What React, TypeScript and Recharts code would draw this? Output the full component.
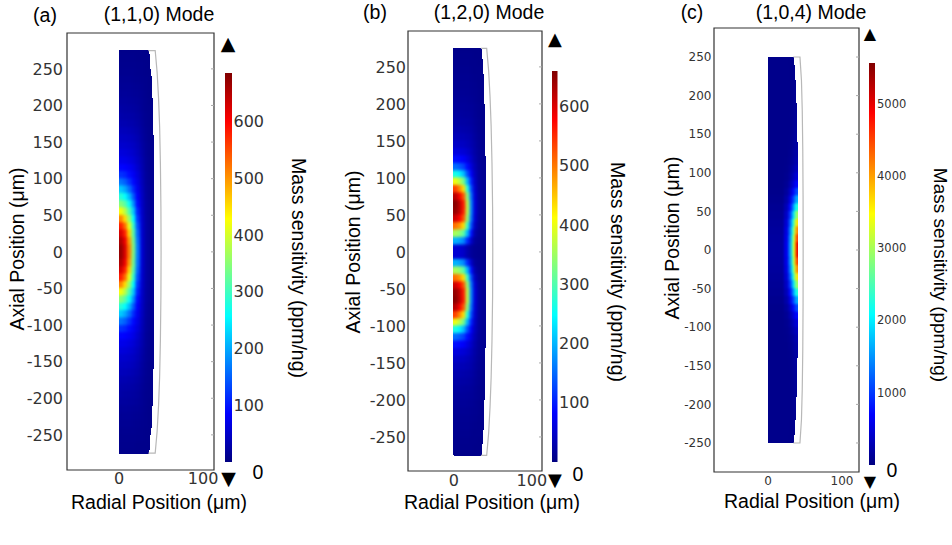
import React from 'react';
import { ScatterChart, Scatter, XAxis, YAxis, ReferenceArea } from 'recharts';

// ---------- tick labels ----------
const radialTicks = [0, 100];
const axialTicks = [-250, -200, -150, -100, -50, 0, 50, 100, 150, 200, 250];
const sensTicksA = [100, 200, 300, 400, 500, 600];
const sensTicksB = [100, 200, 300, 400, 500, 600];
const sensTicksC = [1000, 2000, 3000, 4000, 5000];
const sensMaxA = 685;
const sensMaxB = 660;
const sensMaxC = 5560;

// ---------- axial row boundaries (µm, top -> bottom) ----------
const zBandsA = [275, 270, 260, 250, 240, 230, 220, 210, 200, 190, 180, 170, 160, 150, 140, 130, 120, 110, 100, 90, 80, 70, 60, 50, 40, 30, 20, 10, 0,
  -10, -20, -30, -40, -50, -60, -70, -80, -90, -100, -110, -120, -130, -140, -150, -160, -170, -180, -190, -200, -210, -220, -230, -240, -250, -260, -270, -275];
const zBandsB = [275, 270, 260, 250, 240, 230, 220, 210, 200, 190, 180, 170, 160, 150, 140, 130, 120, 110, 100, 90, 80, 70, 60, 50, 40, 30, 20, 10, 0,
  -10, -20, -30, -40, -50, -60, -70, -80, -90, -100, -110, -120, -130, -140, -150, -160, -170, -180, -190, -200, -210, -220, -230, -240, -250, -260, -270, -275];
const zBandsC = [250, 240, 230, 220, 210, 200, 190, 180, 170, 160, 150, 140, 130, 120, 110, 100, 90, 80, 70, 60, 50, 40, 30, 20, 10, 0,
  -10, -20, -30, -40, -50, -60, -70, -80, -90, -100, -110, -120, -130, -140, -150, -160, -170, -180, -190, -200, -210, -220, -230, -240, -250];

// ---------- radial column boundaries (µm) ----------
const rColsA = [0, 5, 10, 15, 20, 25, 30, 35];
const rColsB = [0, 5, 10, 15, 20, 25, 30, 35];
const rEdgeOffsetsC = [18, 12, 8, 5, 3, 1.5];

// ---------- right edge of the coloured resonator per row (µm) ----------
const edgeA = [35.3, 35.9, 36.7, 37.4, 38.0, 38.5, 38.9, 39.3, 39.6, 39.9, 40.1, 40.3, 40.4, 40.5, 40.6, 40.7, 40.8, 40.8, 40.9, 41, 41, 41, 41, 41, 41, 41, 41, 41,
  41, 41, 41, 41, 41, 41, 41, 41, 41, 40.9, 40.8, 40.8, 40.7, 40.6, 40.5, 40.4, 40.3, 40.1, 39.9, 39.6, 39.3, 38.9, 38.5, 38.0, 37.4, 36.7, 35.9, 35.3];
const edgeB = [34.9, 35.5, 36.2, 36.8, 37.3, 37.8, 38.2, 38.5, 38.8, 39.1, 39.3, 39.5, 39.6, 39.7, 39.8, 39.85, 39.9, 39.95, 40, 40, 40, 40, 40, 40, 40, 40, 40, 40,
  40, 40, 40, 40, 40, 40, 40, 40, 40, 40, 39.95, 39.9, 39.85, 39.8, 39.7, 39.6, 39.5, 39.3, 39.1, 38.8, 38.5, 38.2, 37.8, 37.3, 36.8, 36.2, 35.5, 34.9];
const edgeC = [34.5, 35.3, 36.0, 36.6, 37.1, 37.6, 38.0, 38.3, 38.6, 38.9, 39.1, 39.3, 39.45, 39.6, 39.7, 39.8, 39.85, 39.9, 39.95, 40, 40, 40, 40, 40, 40,
  40, 40, 40, 40, 40, 40, 39.95, 39.9, 39.85, 39.8, 39.7, 39.6, 39.45, 39.3, 39.1, 38.9, 38.6, 38.3, 38.0, 37.6, 37.1, 36.6, 36.0, 35.3, 34.5];

// ---------- outer outline (µm) ----------
const outlineA = [
  { x: 34.8, y: 275 }, { x: 43, y: 275 }, { x: 45.3, y: 245 }, { x: 47, y: 210 }, { x: 48.3, y: 170 },
  { x: 49.2, y: 120 }, { x: 49.8, y: 60 }, { x: 50, y: 0 }, { x: 49.8, y: -60 }, { x: 49.2, y: -120 },
  { x: 48.3, y: -170 }, { x: 47, y: -210 }, { x: 45.3, y: -245 }, { x: 43, y: -275 }, { x: 34.8, y: -275 },
];
const outlineB = [
  { x: 34.6, y: 275 }, { x: 42, y: 275 }, { x: 44.5, y: 245 }, { x: 46.3, y: 210 }, { x: 47.7, y: 170 },
  { x: 48.8, y: 120 }, { x: 49.6, y: 60 }, { x: 49.8, y: 0 }, { x: 49.6, y: -60 }, { x: 48.8, y: -120 },
  { x: 47.7, y: -170 }, { x: 46.3, y: -210 }, { x: 44.5, y: -245 }, { x: 42, y: -275 }, { x: 34.6, y: -275 },
];
const outlineC = [
  { x: 34.2, y: 250 }, { x: 43.2, y: 250 }, { x: 45.2, y: 220 }, { x: 46.3, y: 180 }, { x: 47, y: 130 },
  { x: 47.4, y: 70 }, { x: 47.5, y: 0 }, { x: 47.4, y: -70 }, { x: 47, y: -130 }, { x: 46.3, y: -180 },
  { x: 45.2, y: -220 }, { x: 43.2, y: -250 }, { x: 34.2, y: -250 },
];

// ---------- mass sensitivity (ppm/ng), rows top -> bottom ----------
const heatA = [
  [8, 8, 8, 8, 8, 8, 8, 8],
  [9, 9, 9, 9, 8, 8, 8, 8],
  [10, 10, 10, 10, 9, 9, 8, 8],
  [11, 11, 11, 11, 10, 9, 8, 8],
  [13, 13, 13, 12, 11, 10, 9, 8],
  [15, 15, 15, 14, 13, 11, 9, 8],
  [18, 18, 17, 16, 15, 12, 9, 8],
  [21, 21, 20, 19, 17, 13, 10, 8],
  [25, 24, 23, 22, 19, 14, 10, 9],
  [29, 28, 27, 25, 22, 16, 11, 9],
  [34, 33, 31, 29, 25, 18, 12, 9],
  [40, 39, 37, 34, 29, 20, 13, 10],
  [46, 45, 43, 40, 33, 22, 14, 10],
  [53, 52, 49, 45, 37, 25, 15, 11],
  [62, 60, 56, 51, 41, 28, 16, 11],
  [72, 70, 65, 58, 46, 31, 17, 12],
  [88, 85, 78, 68, 52, 34, 18, 12],
  [118, 110, 93, 78, 60, 37, 19, 13],
  [164, 149, 121, 90, 66, 40, 20, 13],
  [222, 200, 162, 113, 73, 43, 21, 14],
  [283, 258, 212, 145, 81, 46, 22, 14],
  [345, 316, 262, 182, 90, 48, 23, 15],
  [423, 380, 311, 221, 106, 50, 24, 15],
  [510, 452, 360, 256, 120, 52, 25, 15],
  [580, 526, 413, 289, 138, 54, 25, 16],
  [626, 577, 460, 314, 152, 55, 26, 16],
  [654, 610, 497, 332, 161, 56, 26, 16],
  [669, 624, 516, 342, 166, 57, 26, 16],
  [669, 624, 516, 342, 166, 57, 26, 16],
  [654, 610, 497, 332, 161, 56, 26, 16],
  [626, 577, 460, 314, 152, 55, 26, 16],
  [580, 526, 413, 289, 138, 54, 25, 16],
  [510, 452, 360, 256, 120, 52, 25, 15],
  [423, 380, 311, 221, 106, 50, 24, 15],
  [345, 316, 262, 182, 90, 48, 23, 15],
  [283, 258, 212, 145, 81, 46, 22, 14],
  [222, 200, 162, 113, 73, 43, 21, 14],
  [164, 149, 121, 90, 66, 40, 20, 13],
  [118, 110, 93, 78, 60, 37, 19, 13],
  [88, 85, 78, 68, 52, 34, 18, 12],
  [72, 70, 65, 58, 46, 31, 17, 12],
  [62, 60, 56, 51, 41, 28, 16, 11],
  [53, 52, 49, 45, 37, 25, 15, 11],
  [46, 45, 43, 40, 33, 22, 14, 10],
  [40, 39, 37, 34, 29, 20, 13, 10],
  [34, 33, 31, 29, 25, 18, 12, 9],
  [29, 28, 27, 25, 22, 16, 11, 9],
  [25, 24, 23, 22, 19, 14, 10, 9],
  [21, 21, 20, 19, 17, 13, 10, 8],
  [18, 18, 17, 16, 15, 12, 9, 8],
  [15, 15, 15, 14, 13, 11, 9, 8],
  [13, 13, 13, 12, 11, 10, 9, 8],
  [11, 11, 11, 11, 10, 9, 8, 8],
  [10, 10, 10, 10, 9, 9, 8, 8],
  [9, 9, 9, 9, 8, 8, 8, 8],
  [8, 8, 8, 8, 8, 8, 8, 8],
];

const heatB = [
  [7, 7, 7, 7, 7, 7, 7, 7],
  [8, 8, 8, 8, 8, 7, 7, 7],
  [9, 9, 9, 9, 8, 8, 7, 7],
  [10, 10, 10, 10, 9, 8, 8, 7],
  [11, 11, 11, 11, 10, 9, 8, 7],
  [12, 12, 12, 12, 11, 10, 8, 8],
  [14, 14, 14, 13, 12, 11, 9, 8],
  [16, 16, 16, 15, 14, 12, 9, 8],
  [18, 18, 18, 17, 16, 13, 10, 8],
  [21, 21, 20, 19, 18, 14, 10, 8],
  [25, 25, 24, 23, 21, 16, 11, 9],
  [30, 30, 29, 27, 24, 18, 12, 9],
  [37, 36, 35, 32, 28, 20, 13, 10],
  [46, 45, 43, 38, 32, 22, 14, 10],
  [62, 59, 56, 48, 38, 25, 15, 11],
  [90, 86, 79, 64, 47, 29, 16, 11],
  [152, 140, 125, 89, 60, 34, 18, 12],
  [262, 240, 207, 134, 77, 39, 19, 12],
  [402, 369, 323, 199, 102, 45, 20, 13],
  [537, 493, 436, 272, 129, 50, 21, 13],
  [624, 584, 523, 335, 153, 54, 22, 14],
  [655, 621, 563, 366, 167, 56, 23, 14],
  [648, 619, 560, 366, 168, 56, 23, 14],
  [609, 581, 526, 343, 157, 52, 21, 13],
  [505, 482, 436, 285, 130, 42, 18, 12],
  [356, 340, 308, 201, 91, 28, 14, 11],
  [198, 189, 171, 110, 48, 18, 12, 10],
  [55, 53, 47, 30, 18, 12, 10, 9],
  [55, 53, 47, 30, 18, 12, 10, 9],
  [198, 189, 171, 110, 48, 18, 12, 10],
  [356, 340, 308, 201, 91, 28, 14, 11],
  [505, 482, 436, 285, 130, 42, 18, 12],
  [609, 581, 526, 343, 157, 52, 21, 13],
  [648, 619, 560, 366, 168, 56, 23, 14],
  [655, 621, 563, 366, 167, 56, 23, 14],
  [624, 584, 523, 335, 153, 54, 22, 14],
  [537, 493, 436, 272, 129, 50, 21, 13],
  [402, 369, 323, 199, 102, 45, 20, 13],
  [262, 240, 207, 134, 77, 39, 19, 12],
  [152, 140, 125, 89, 60, 34, 18, 12],
  [90, 86, 79, 64, 47, 29, 16, 11],
  [62, 59, 56, 48, 38, 25, 15, 11],
  [46, 45, 43, 38, 32, 22, 14, 10],
  [37, 36, 35, 32, 28, 20, 13, 10],
  [30, 30, 29, 27, 24, 18, 12, 9],
  [25, 25, 24, 23, 21, 16, 11, 9],
  [21, 21, 20, 19, 18, 14, 10, 8],
  [18, 18, 18, 17, 16, 13, 10, 8],
  [16, 16, 16, 15, 14, 12, 9, 8],
  [14, 14, 14, 13, 12, 11, 9, 8],
  [12, 12, 12, 12, 11, 10, 8, 8],
  [11, 11, 11, 11, 10, 9, 8, 7],
  [10, 10, 10, 10, 9, 8, 8, 7],
  [9, 9, 9, 9, 8, 8, 7, 7],
  [8, 8, 8, 8, 8, 7, 7, 7],
  [7, 7, 7, 7, 7, 7, 7, 7],
];

const heatC = [
  [60, 60, 60, 60, 60, 62, 70],
  [60, 60, 60, 60, 62, 66, 76],
  [60, 60, 60, 60, 65, 72, 84],
  [60, 60, 60, 60, 68, 79, 92],
  [60, 60, 60, 62, 73, 87, 100],
  [60, 60, 60, 65, 79, 95, 108],
  [60, 60, 60, 69, 86, 104, 118],
  [60, 60, 60, 73, 94, 114, 129],
  [60, 60, 62, 78, 103, 125, 141],
  [60, 60, 65, 85, 114, 138, 155],
  [60, 60, 69, 94, 127, 153, 172],
  [60, 60, 74, 105, 143, 172, 194],
  [60, 62, 82, 121, 165, 199, 224],
  [60, 66, 95, 147, 202, 243, 272],
  [60, 72, 118, 192, 265, 318, 355],
  [60, 85, 160, 268, 371, 445, 497],
  [62, 110, 240, 400, 550, 660, 735],
  [70, 155, 360, 610, 830, 1000, 1110],
  [85, 220, 530, 900, 1230, 1480, 1650],
  [105, 300, 740, 1250, 1710, 2060, 2300],
  [125, 380, 960, 1620, 2220, 2670, 2980],
  [145, 455, 1160, 1960, 2690, 3240, 3620],
  [160, 515, 1320, 2240, 3070, 3700, 4150],
  [172, 555, 1430, 2430, 3330, 4020, 4560],
  [178, 575, 1480, 2520, 3460, 4200, 5000],
  [178, 575, 1480, 2520, 3460, 4200, 5000],
  [172, 555, 1430, 2430, 3330, 4020, 4560],
  [160, 515, 1320, 2240, 3070, 3700, 4150],
  [145, 455, 1160, 1960, 2690, 3240, 3620],
  [125, 380, 960, 1620, 2220, 2670, 2980],
  [105, 300, 740, 1250, 1710, 2060, 2300],
  [85, 220, 530, 900, 1230, 1480, 1650],
  [70, 155, 360, 610, 830, 1000, 1110],
  [62, 110, 240, 400, 550, 660, 735],
  [60, 85, 160, 268, 371, 445, 497],
  [60, 72, 118, 192, 265, 318, 355],
  [60, 66, 95, 147, 202, 243, 272],
  [60, 62, 82, 121, 165, 199, 224],
  [60, 60, 74, 105, 143, 172, 194],
  [60, 60, 69, 94, 127, 153, 172],
  [60, 60, 65, 85, 114, 138, 155],
  [60, 60, 62, 78, 103, 125, 141],
  [60, 60, 60, 73, 94, 114, 129],
  [60, 60, 60, 69, 86, 104, 118],
  [60, 60, 60, 65, 79, 95, 108],
  [60, 60, 60, 62, 73, 87, 100],
  [60, 60, 60, 60, 68, 79, 92],
  [60, 60, 60, 60, 65, 72, 84],
  [60, 60, 60, 60, 62, 66, 76],
  [60, 60, 60, 60, 60, 62, 70],
];

// ---------- helpers ----------
function jet(v: number, max: number): string {
  const t = Math.max(0, Math.min(1, v / max));
  const ch = (k: number) => Math.round(255 * Math.max(0, Math.min(1, 1.5 - Math.abs(4 * t - k))));
  return `rgb(${ch(3)},${ch(2)},${ch(1)})`;
}

type Cell = { x1: number; x2: number; y1: number; y2: number; v: number };

function buildCells(zBands: number[], edges: number[], heat: number[][], rCols?: number[], rOffsets?: number[]): Cell[] {
  const cells: Cell[] = [];
  heat.forEach((row, i) => {
    const e = edges[i];
    const bounds = rCols ? [...rCols, e] : [0, ...(rOffsets as number[]).map((o) => e - o), e];
    row.forEach((v, j) => {
      cells.push({ x1: bounds[j], x2: bounds[j + 1], y1: zBands[i + 1], y2: zBands[i], v });
    });
  });
  return cells;
}

type Panel = {
  left: number; height: number;
  boxLeft: number; boxRight: number; boxTop: number; boxBottom: number;
  xDomain: [number, number]; yDomain: [number, number];
  tickFont: number; yTickMargin: number; xTickMargin: number;
  cells: Cell[]; max: number; outline: { x: number; y: number }[]; filter: string;
};

const PAD_R = 24;
const tickStyle = (size: number) => ({ fontSize: size, fill: '#333', fontFamily: '"DejaVu Sans", Verdana, sans-serif' });

function HeatLayer({ p }: { p: Panel }) {
  const width = p.boxRight - p.left + PAD_R;
  return (
    <div className="heatLayer" style={{ position: 'absolute', left: p.left, top: 0, filter: `url(#${p.filter})` }}>
      <ScatterChart
        width={width}
        height={p.height}
        margin={{ top: p.boxTop, right: PAD_R, bottom: p.height - p.boxBottom, left: p.boxLeft - p.left }}
      >
        <XAxis type="number" dataKey="x" domain={p.xDomain} hide allowDataOverflow />
        <YAxis type="number" dataKey="y" domain={p.yDomain} hide allowDataOverflow />
        {p.cells.map((c, k) => {
          const col = jet(c.v, p.max);
          return (
            <ReferenceArea
              key={k}
              x1={c.x1}
              x2={c.x2}
              y1={c.y1}
              y2={c.y2}
              fill={col}
              fillOpacity={1}
              stroke={col}
              strokeWidth={0.6}
              shapeRendering="crispEdges"
            />
          );
        })}
      </ScatterChart>
    </div>
  );
}

function AxesLayer({ p }: { p: Panel }) {
  const width = p.boxRight - p.left + PAD_R;
  return (
    <div style={{ position: 'absolute', left: p.left, top: 0 }}>
      <ScatterChart width={width} height={p.height} margin={{ top: p.boxTop, right: PAD_R, bottom: 0, left: 0 }}>
        <XAxis
          type="number"
          dataKey="x"
          domain={p.xDomain}
          ticks={radialTicks}
          height={p.height - p.boxBottom}
          tick={tickStyle(p.tickFont)}
          tickLine={false}
          axisLine={false}
          tickSize={0}
          tickMargin={p.xTickMargin}
          allowDataOverflow
        />
        <YAxis
          type="number"
          dataKey="y"
          domain={p.yDomain}
          ticks={axialTicks}
          width={p.boxLeft - p.left}
          tick={tickStyle(p.tickFont)}
          tickLine={false}
          axisLine={false}
          tickSize={0}
          tickMargin={p.yTickMargin}
          allowDataOverflow
        />
        <YAxis
          yAxisId="inner"
          orientation="right"
          mirror
          type="number"
          domain={p.yDomain}
          ticks={axialTicks}
          width={10}
          tickFormatter={() => ''}
          tickLine={{ stroke: '#aaa' }}
          tickSize={3}
          axisLine={false}
          allowDataOverflow
        />
        <Scatter
          data={p.outline}
          fill="#b8b8b8"
          line={{ stroke: '#b8b8b8', strokeWidth: 1.2 }}
          lineType="joint"
          shape={() => <g />}
          isAnimationActive={false}
        />
        <ReferenceArea
          x1={p.xDomain[0]}
          x2={p.xDomain[1]}
          y1={p.yDomain[0]}
          y2={p.yDomain[1]}
          fill="none"
          stroke="#333"
          strokeWidth={1.2}
        />
      </ScatterChart>
    </div>
  );
}

function ColorBar({ left, barWidth, top, bottom, max, ticks, font, margin }: {
  left: number; barWidth: number; top: number; bottom: number; max: number; ticks: number[]; font: number; margin: number;
}) {
  const axisW = 50;
  return (
    <div style={{ position: 'absolute', left, top: 0 }}>
      <ScatterChart width={barWidth + axisW} height={bottom + 10} margin={{ top, right: 0, bottom: 10, left: 0 }}>
        <XAxis type="number" dataKey="x" domain={[0, 1]} hide allowDataOverflow />
        <YAxis
          type="number"
          dataKey="y"
          orientation="right"
          domain={[0, max]}
          ticks={ticks}
          width={axisW}
          tick={tickStyle(font)}
          tickLine={false}
          axisLine={false}
          tickSize={0}
          tickMargin={margin}
          allowDataOverflow
        />
        <ReferenceArea x1={0} x2={1} y1={0} y2={max} fill="url(#jetGrad)" fillOpacity={1} stroke="none" />
      </ScatterChart>
    </div>
  );
}

const T = ({ x, y, children, size = 19.5, rot = 0, family = '"Liberation Sans", Arial, sans-serif' }: {
  x: number; y: number; children: React.ReactNode; size?: number; rot?: number; family?: string;
}) => (
  <div
    style={{
      position: 'absolute',
      left: x,
      top: y,
      transform: `translate(-50%, -50%) rotate(${rot}deg)`,
      fontSize: size,
      fontFamily: family,
      whiteSpace: 'nowrap',
      lineHeight: 1,
      color: '#000',
    }}
  >
    {children}
  </div>
);

const DJ = '"DejaVu Sans", sans-serif';

function SmoothFilter({ id, sd }: { id: string; sd: number }) {
  return (
    <filter id={id} x="0" y="0" width="100%" height="100%" colorInterpolationFilters="sRGB">
      <feGaussianBlur in="SourceGraphic" stdDeviation={sd} result="blurred" />
      <feComponentTransfer in="blurred" result="solid">
        <feFuncA type="discrete" tableValues="0 1 1 1 1 1 1 1 1 1 1 1 1 1 1 1" />
      </feComponentTransfer>
      <feComponentTransfer in="SourceAlpha" result="mask">
        <feFuncA type="discrete" tableValues="0 1" />
      </feComponentTransfer>
      <feComposite in="solid" in2="mask" operator="in" />
    </filter>
  );
}

export default function App() {
  const panels: Panel[] = [
    {
      left: 0, height: 520, boxLeft: 67, boxRight: 214, boxTop: 33, boxBottom: 470,
      xDomain: [-62, 113], yDomain: [-298, 299], tickFont: 16, yTickMargin: 4, xTickMargin: 3,
      cells: buildCells(zBandsA, edgeA, heatA, rColsA), max: sensMaxA, outline: outlineA, filter: 'smoothWide',
    },
    {
      left: 340, height: 520, boxLeft: 408, boxRight: 542, boxTop: 31, boxBottom: 471,
      xDomain: [-59, 113], yDomain: [-296, 298.5], tickFont: 16, yTickMargin: 2, xTickMargin: 4,
      cells: buildCells(zBandsB, edgeB, heatB, rColsB), max: sensMaxB, outline: outlineB, filter: 'smoothWide',
    },
    {
      left: 660, height: 520, boxLeft: 714, boxRight: 859, boxTop: 28, boxBottom: 472,
      xDomain: [-73, 123], yDomain: [-287.6, 287.6], tickFont: 12, yTickMargin: 2.5, xTickMargin: 4,
      cells: buildCells(zBandsC, edgeC, heatC, undefined, rEdgeOffsetsC), max: sensMaxC, outline: outlineC, filter: 'smoothThin',
    },
  ];
  const gradStops = [0, 0.125, 0.375, 0.625, 0.875, 1];

  return (
    <div style={{ position: 'absolute', left: 0, top: 0, width: 952, height: 545, overflow: 'hidden', background: '#fff' }}>
      <style>{'.heatLayer path, .heatLayer rect { shape-rendering: crispEdges; }'}</style>
      <svg width={0} height={0} style={{ position: 'absolute' }}>
        <defs>
          <linearGradient id="jetGrad" x1="0" y1="1" x2="0" y2="0">
            {gradStops.map((s) => (
              <stop key={s} offset={s} stopColor={jet(s, 1)} />
            ))}
          </linearGradient>
          <SmoothFilter id="smoothWide" sd={1.8} />
          <SmoothFilter id="smoothThin" sd={0.9} />
        </defs>
      </svg>

      {panels.map((p, i) => (
        <HeatLayer key={'h' + i} p={p} />
      ))}
      {panels.map((p, i) => (
        <AxesLayer key={'a' + i} p={p} />
      ))}

      <ColorBar left={225} barWidth={7} top={73} bottom={462} max={sensMaxA} ticks={sensTicksA} font={16} margin={1.5} />
      <ColorBar left={552} barWidth={5.5} top={71} bottom={462} max={sensMaxB} ticks={sensTicksB} font={16} margin={1.5} />
      <ColorBar left={869} barWidth={6} top={63} bottom={465} max={sensMaxC} ticks={sensTicksC} font={11.5} margin={2} />

      <T x={45} y={15.5}>(a)</T>
      <T x={159} y={15}>(1,1,0) Mode</T>
      <T x={375} y={12.5}>(b)</T>
      <T x={489} y={12.5}>(1,2,0) Mode</T>
      <T x={692} y={12.5}>(c)</T>
      <T x={811} y={12.5}>(1,0,4) Mode</T>

      <T x={159} y={503}>Radial Position (μm)</T>
      <T x={492} y={503}>Radial Position (μm)</T>
      <T x={812} y={502}>Radial Position (μm)</T>

      <T x={18} y={249} rot={-90}>Axial Position (μm)</T>
      <T x={353.5} y={252} rot={-90}>Axial Position (μm)</T>
      <T x={672.5} y={238} rot={-90}>Axial Position (μm)</T>

      <T x={298} y={268} rot={90}>Mass sensitivity (ppm/ng)</T>
      <T x={617} y={272} rot={90}>Mass sensitivity (ppm/ng)</T>
      <T x={940} y={275} rot={90} size={19}>Mass sensitivity (ppm/ng)</T>

      <T x={228} y={42.5} size={19} family={DJ}>▲</T>
      <T x={228.5} y={478} size={19} family={DJ}>▼</T>
      <T x={555} y={39} size={18} family={DJ}>▲</T>
      <T x={555} y={480} size={18} family={DJ}>▼</T>
      <T x={870} y={34} size={16} family={DJ}>▲</T>
      <T x={870} y={482} size={16} family={DJ}>▼</T>

      <T x={258} y={473}>0</T>
      <T x={578} y={475}>0</T>
      <T x={892} y={471}>0</T>
    </div>
  );
}
